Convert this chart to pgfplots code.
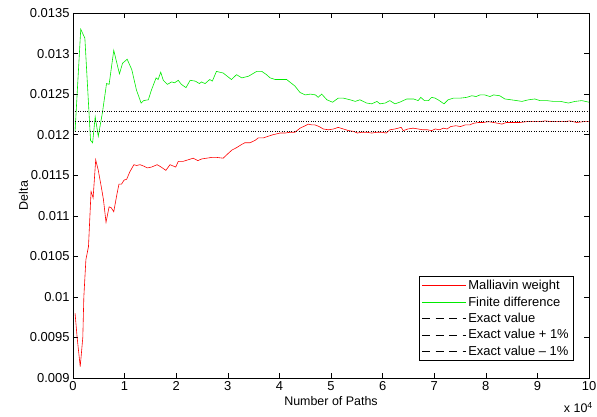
\documentclass[border=0pt]{standalone}
\usepackage{fontspec}
\setmainfont{Liberation Sans}
\usepackage{pgfplots}
\pgfplotsset{compat=1.18}
\definecolor{mwred}{RGB}{255,0,0}
\definecolor{fdgreen}{RGB}{0,235,0}
\begin{document}
\begin{tikzpicture}
\begin{axis}[
  scale only axis,
  width=516bp, height=365bp,
  xmin=0, xmax=10, ymin=0.009, ymax=0.0135,
  xtick={0,1,...,10},
  ytick={0.009,0.0095,0.01,0.0105,0.011,0.0115,0.012,0.0125,0.013,0.0135},
  yticklabels={0.009,0.0095,0.01,0.0105,0.011,0.0115,0.012,0.0125,0.013,0.0135},
  xticklabels={0,1,2,3,4,5,6,7,8,9,10},
  scaled y ticks=false,
  tick align=inside, xtick pos=both, ytick pos=both,
  major tick length=5bp,
  tick style={black, line width=0.5pt},
  axis line style={black, line width=0.5pt},
  tick label style={font=\fontsize{13}{15}\selectfont},
  label style={font=\fontsize{12.5}{14}\selectfont},
  xlabel={Number of Paths},
  ylabel={Delta},
  xlabel style={yshift=1bp},
  ylabel style={yshift=-5bp},
  legend cell align=left,
  legend style={at={(rel axis cs:0.969,0.047)}, anchor=south east,
    draw=black, line width=0.5pt, font=\fontsize{13}{15}\selectfont,
    row sep=1.5bp, inner sep=2bp},
]
\coordinate (bl) at (rel axis cs:0,0);
\coordinate (tr) at (rel axis cs:1,1);
\addplot[mwred, line width=0.6pt,
  legend image code/.code={\draw[draw=mwred, line width=0.6pt] (0bp,0bp) -- (44bp,0bp);}] coordinates {
(0.04,0.0098) (0.08,0.0095) (0.14,0.00914) (0.19,0.0095) (0.21,0.0100)
(0.25,0.01046) (0.30,0.01062) (0.35,0.0113) (0.39,0.01122) (0.44,0.01169)
(0.49,0.01156) (0.55,0.01135) (0.59,0.0112) (0.64,0.01092) (0.70,0.01111)
(0.74,0.0111) (0.79,0.01105) (0.85,0.01126) (0.89,0.01139) (0.94,0.01139)
(0.99,0.01144) (1.04,0.01145) (1.10,0.01154) (1.18,0.01163) (1.23,0.01162)
(1.30,0.01163) (1.38,0.01161) (1.44,0.01159) (1.52,0.0116) (1.63,0.01163)
(1.71,0.0116) (1.80,0.01156) (1.88,0.01163) (1.99,0.0116) (2.04,0.01167)
(2.13,0.01167) (2.23,0.01169) (2.33,0.01171) (2.42,0.01168) (2.49,0.0117)
(2.59,0.01171) (2.69,0.01172) (2.78,0.01172) (2.91,0.01171) (3.01,0.01177)
(3.08,0.01181) (3.17,0.01184) (3.27,0.01188) (3.33,0.0119) (3.43,0.0119)
(3.53,0.01193) (3.59,0.01196) (3.69,0.01196) (3.78,0.01198) (3.88,0.012)
(3.95,0.01201) (4.01,0.01202) (4.11,0.01202) (4.21,0.01203) (4.30,0.01203)
(4.40,0.01208) (4.50,0.01211) (4.56,0.01213) (4.63,0.01212) (4.69,0.01212)
(4.77,0.0121) (4.85,0.01207) (4.95,0.01206) (5.05,0.01207) (5.14,0.01209)
(5.24,0.01207) (5.34,0.01205) (5.44,0.01204) (5.51,0.01202) (5.60,0.01203)
(5.69,0.01203) (5.79,0.01202) (5.89,0.01203) (5.98,0.01203) (6.07,0.01202)
(6.14,0.01206) (6.24,0.01207) (6.36,0.01209) (6.40,0.01205) (6.49,0.01207)
(6.59,0.01208) (6.69,0.01207) (6.78,0.01206) (6.87,0.01206) (6.95,0.01205)
(7.02,0.01207) (7.10,0.01206) (7.18,0.01208) (7.25,0.01207) (7.32,0.0121)
(7.42,0.01211) (7.51,0.0121) (7.60,0.01212) (7.69,0.01212) (7.76,0.01214)
(7.86,0.01215) (7.95,0.01215) (8.05,0.01216) (8.15,0.01215) (8.24,0.01214)
(8.31,0.01213) (8.40,0.01215) (8.53,0.01215) (8.66,0.01215) (8.79,0.01216)
(8.89,0.01216) (9.05,0.01216) (9.15,0.01217) (9.28,0.01216) (9.43,0.01216)
(9.53,0.01216) (9.63,0.01217) (9.76,0.01215) (9.89,0.01216) (10.0,0.01216)
};
\addlegendentry{Malliavin weight}
\addplot[fdgreen, line width=0.6pt,
  legend image code/.code={\draw[draw=fdgreen, line width=0.6pt] (0bp,0bp) -- (44bp,0bp);}] coordinates {
(0.04,0.01204) (0.15,0.0133) (0.23,0.01319) (0.34,0.01193) (0.38,0.0119)
(0.43,0.01222) (0.49,0.01198) (0.57,0.01227) (0.65,0.01263) (0.70,0.01262)
(0.79,0.01304) (0.90,0.01275) (0.96,0.01288) (1.05,0.01293) (1.14,0.0128)
(1.23,0.01255) (1.32,0.01239) (1.37,0.01242) (1.46,0.01243) (1.52,0.01255)
(1.61,0.0127) (1.65,0.01268) (1.70,0.01277) (1.75,0.01267) (1.83,0.01262)
(1.91,0.01265) (1.97,0.01264) (2.04,0.01267) (2.10,0.01262) (2.19,0.01258)
(2.27,0.01267) (2.37,0.01266) (2.45,0.01263) (2.49,0.01265) (2.56,0.01263)
(2.65,0.01268) (2.70,0.01266) (2.78,0.01278) (2.91,0.01276) (3.07,0.01268)
(3.17,0.01274) (3.27,0.0127) (3.40,0.01272) (3.56,0.01278) (3.66,0.01278)
(3.75,0.01274) (3.82,0.0127) (3.92,0.01268) (4.04,0.01268) (4.14,0.01268)
(4.24,0.01263) (4.30,0.0126) (4.40,0.01252) (4.50,0.01249) (4.60,0.0125)
(4.70,0.01249) (4.75,0.01246) (4.82,0.0125) (4.92,0.01243) (5.03,0.0124)
(5.14,0.01245) (5.24,0.01245) (5.37,0.01243) (5.47,0.01241) (5.56,0.01243)
(5.69,0.01239) (5.79,0.01238) (5.89,0.01241) (5.95,0.01238) (6.05,0.01239)
(6.14,0.01242) (6.24,0.01238) (6.33,0.0124) (6.47,0.01244) (6.60,0.01244)
(6.69,0.01242) (6.74,0.01246) (6.81,0.01242) (6.89,0.01242) (6.95,0.01246)
(7.02,0.01245) (7.10,0.01242) (7.19,0.01238) (7.27,0.01243) (7.37,0.01245)
(7.50,0.01245) (7.63,0.01246) (7.73,0.01248) (7.81,0.01247) (7.89,0.01249)
(7.98,0.01249) (8.08,0.01247) (8.15,0.01249) (8.27,0.01248) (8.37,0.01244)
(8.49,0.01243) (8.60,0.01242) (8.70,0.01241) (8.83,0.01243) (8.95,0.01244)
(9.05,0.01242) (9.18,0.01242) (9.31,0.01241) (9.45,0.01241) (9.60,0.01239)
(9.73,0.01241) (9.86,0.01242) (10.0,0.0124)
};
\addlegendentry{Finite difference}
\addplot[black, line width=0.5pt, dash pattern=on 0.8bp off 1.6bp,
  legend image code/.code={\draw[draw=black, line width=0.5pt, dash pattern=on 8bp off 5.5bp] (0bp,0bp) -- (44bp,0bp);}]
  coordinates {(0,0.012165) (10,0.012165)};
\addlegendentry{Exact value}
\addplot[black, line width=0.5pt, dash pattern=on 0.8bp off 1.6bp,
  legend image code/.code={\draw[draw=black, line width=0.5pt, dash pattern=on 8bp off 5.5bp] (0bp,0bp) -- (44bp,0bp);}]
  coordinates {(0,0.012287) (10,0.012287)};
\addlegendentry{Exact value + 1\%}
\addplot[black, line width=0.5pt, dash pattern=on 0.8bp off 1.6bp,
  legend image code/.code={\draw[draw=black, line width=0.5pt, dash pattern=on 8bp off 5.5bp] (0bp,0bp) -- (44bp,0bp);}]
  coordinates {(0,0.012043) (10,0.012043)};
\addlegendentry{Exact value -- 1\%}
\end{axis}
\node[anchor=north east, font=\fontsize{12.5}{14}\selectfont, inner sep=0pt]
  at ([shift={(4bp,-24bp)}]tr |- bl) {x 10\textsuperscript{4}};
\pgfresetboundingbox
\path ([shift={(-73bp,-39bp)}]bl) rectangle ([shift={(8bp,13bp)}]tr);
\end{tikzpicture}
\end{document}
